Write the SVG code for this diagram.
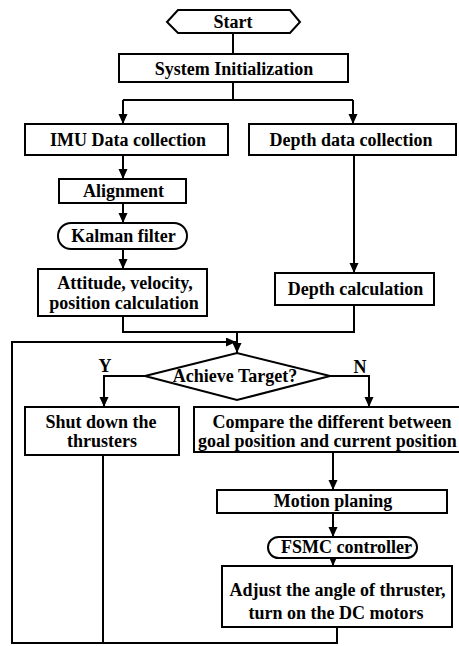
<svg xmlns="http://www.w3.org/2000/svg" width="459" height="646" viewBox="0 0 459 646">
<style>
.box{fill:#fff;stroke:#000;stroke-width:2}
.t{font-family:"Liberation Serif","Times New Roman",serif;font-weight:bold;font-size:18px;fill:#000;text-anchor:middle}
.c{fill:none;stroke:#000;stroke-width:2}
</style>
<defs>
<marker id="ah" markerUnits="userSpaceOnUse" markerWidth="10" markerHeight="10" refX="10" refY="4.5" orient="auto">
<path d="M0,0 L10,4.5 L0,9 z" fill="#000"/>
</marker>
</defs>
<rect width="459" height="646" fill="#fff"/>
<g id="connectors">
<path class="c" d="M233,33 V54"/>
<path class="c" d="M233,82 V100 M123,100 H353"/>
<path class="c" d="M123,100 V124" marker-end="url(#ah)"/>
<path class="c" d="M353,100 V124" marker-end="url(#ah)"/>
<path class="c" d="M123,155 V179" marker-end="url(#ah)"/>
<path class="c" d="M123,203 V223" marker-end="url(#ah)"/>
<path class="c" d="M123,249 V269" marker-end="url(#ah)"/>
<path class="c" d="M354,155 V273" marker-end="url(#ah)"/>
<path class="c" d="M123,316 V332 H354 V305"/>
<path class="c" d="M237,332 V353" marker-end="url(#ah)"/>
<path class="c" d="M145,376 H104 V407" marker-end="url(#ah)"/>
<path class="c" d="M330,376 H369 V407" marker-end="url(#ah)"/>
<path class="c" d="M333,452 V490" marker-end="url(#ah)"/>
<path class="c" d="M333,513 V537" marker-end="url(#ah)"/>
<path class="c" d="M333,558 V566" marker-end="url(#ah)"/>
<path class="c" d="M337,627 V643 H12 V342 H236" marker-end="url(#ah)"/>
<path class="c" d="M103,455 V643"/>
</g>
<g id="start">
<polygon class="box" points="167,22 178,10 290,10 300,22 290,33 178,33"/>
<text class="t" x="233" y="28">Start</text>
</g>
<g id="sysinit">
<rect class="box" x="119" y="54" width="229" height="28"/>
<text class="t" x="234" y="75">System Initialization</text>
</g>
<g id="imu">
<rect class="box" x="25" y="124" width="203" height="31"/>
<text class="t" x="128" y="146">IMU Data collection</text>
</g>
<g id="depthdata">
<rect class="box" x="249" y="124" width="207" height="31"/>
<text class="t" x="351" y="146">Depth data collection</text>
</g>
<g id="alignment">
<rect class="box" x="59" y="179" width="127" height="24"/>
<text class="t" x="123.5" y="197">Alignment</text>
</g>
<g id="kalman">
<rect class="box" x="58" y="223" width="129" height="26" rx="13" ry="13"/>
<text class="t" x="123.5" y="242">Kalman filter</text>
</g>
<g id="attitude">
<rect class="box" x="38" y="269" width="169" height="47"/>
<text class="t" x="125" y="289">Attitude, velocity,</text>
<text class="t" x="124" y="309">position calculation</text>
</g>
<g id="depthcalc">
<rect class="box" x="275" y="273" width="159" height="32"/>
<text class="t" x="355.5" y="295">Depth calculation</text>
</g>
<g id="decision">
<polygon class="box" points="145,376 237,353 330,376 237,400"/>
<text class="t" x="235" y="382">Achieve Target?</text>
<text class="t" x="105" y="372">Y</text>
<text class="t" x="360" y="373">N</text>
</g>
<g id="shutdown">
<rect class="box" x="25" y="407" width="154" height="48"/>
<text class="t" x="101" y="428">Shut down the</text>
<text class="t" x="102" y="447">thrusters</text>
</g>
<g id="compare">
<rect class="box" x="194" y="407" width="280" height="45"/>
<text class="t" x="332" y="428">Compare the different between</text>
<text class="t" x="198" y="447" style="text-anchor:start">goal position and current position</text>
</g>
<g id="motion">
<rect class="box" x="217" y="490" width="230" height="23"/>
<text class="t" x="333" y="507">Motion planing</text>
</g>
<g id="fsmc">
<rect class="box" x="268" y="537" width="149" height="21" rx="10.5" ry="10.5"/>
<text class="t" x="346.5" y="553">FSMC controller</text>
</g>
<g id="adjust">
<rect class="box" x="222" y="566" width="230" height="61"/>
<text class="t" x="337.5" y="596">Adjust the angle of thruster,</text>
<text class="t" x="336" y="619">turn on the DC motors</text>
</g>
</svg>
